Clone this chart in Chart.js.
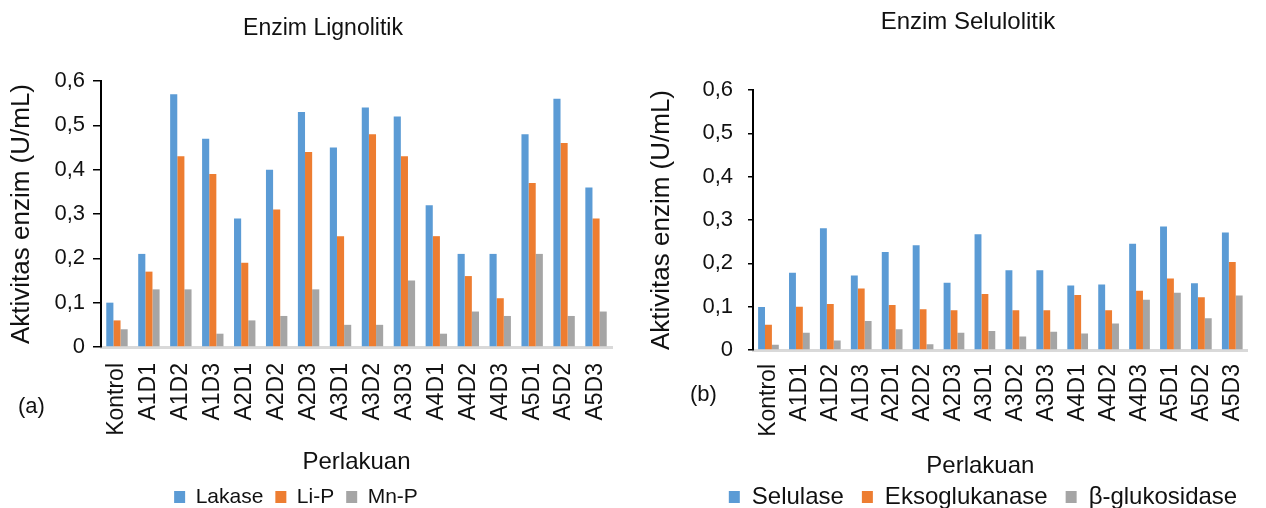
<!DOCTYPE html>
<html>
<head>
<meta charset="utf-8">
<script src="https://cdn.jsdelivr.net/npm/chart.js@4/dist/chart.umd.min.js"></script>
<style>
  html, body { margin: 0; padding: 0; background: #fff; }
  .panel { position: absolute; top: 0; height: 508px; }
  #left { left: 0; width: 640px; }
  #right { left: 640px; width: 626px; }
</style>
</head>
<body>
<div class="panel" id="left"><canvas id="lignolitik"></canvas></div>
<div class="panel" id="right"><canvas id="selulolitik"></canvas></div>
<script>
var categories = ["Kontrol", "A1D1", "A1D2", "A1D3", "A2D1", "A2D2", "A2D3", "A3D1",
  "A3D2", "A3D3", "A4D1", "A4D2", "A4D3", "A5D1", "A5D2", "A5D3"];

// (a) lignolytic enzymes
var lakase = [0.10, 0.21, 0.57, 0.47, 0.29, 0.40, 0.53, 0.45, 0.54, 0.52, 0.32, 0.21, 0.21, 0.48, 0.56, 0.36];
var lip = [0.06, 0.17, 0.43, 0.39, 0.19, 0.31, 0.44, 0.25, 0.48, 0.43, 0.25, 0.16, 0.11, 0.37, 0.46, 0.29];
var mnp = [0.04, 0.13, 0.13, 0.03, 0.06, 0.07, 0.13, 0.05, 0.05, 0.15, 0.03, 0.08, 0.07, 0.21, 0.07, 0.08];

// (b) cellulolytic enzymes
var selulase = [0.099, 0.178, 0.281, 0.172, 0.226, 0.242, 0.155, 0.267, 0.184, 0.184, 0.149, 0.151, 0.245, 0.285, 0.154, 0.271];
var eksoglukanase = [0.058, 0.100, 0.106, 0.142, 0.104, 0.094, 0.092, 0.129, 0.092, 0.092, 0.127, 0.092, 0.137, 0.165, 0.122, 0.203];
var glukosidase = [0.012, 0.040, 0.022, 0.067, 0.048, 0.013, 0.040, 0.044, 0.031, 0.042, 0.038, 0.061, 0.116, 0.132, 0.073, 0.126];

var BLUE = "#5B9BD5", ORANGE = "#ED7D31", GRAY = "#A5A5A5";
var FONT = "'Liberation Sans', Arial, sans-serif";
var TEXT = "#111";

Chart.defaults.font.family = FONT;
Chart.defaults.color = TEXT;

// shifts the title / legend boxes and draws the x title and panel letter
var extras = {
  id: "extras",
  afterLayout: function (chart, args, o) {
    var lg = chart.legend, tb = chart.titleBlock;
    lg.left += o.legendDx; lg.right += o.legendDx;
    lg.top += o.legendDy; lg.bottom += o.legendDy;
    tb.left += o.titleDx; tb.right += o.titleDx;
  },
  afterDraw: function (chart, args, o) {
    var ctx = chart.ctx, a = chart.chartArea;
    ctx.save();
    ctx.fillStyle = TEXT;
    ctx.textBaseline = "middle";
    ctx.textAlign = "center";
    ctx.font = o.xTitleSize + "px " + FONT;
    ctx.fillText(o.xTitle, (a.left + a.right) / 2 + o.xTitleDx, a.bottom + o.xTitleDy);
    ctx.textAlign = "left";
    ctx.font = o.panelSize + "px " + FONT;
    ctx.fillText(o.panel, o.panelX, a.bottom + o.panelDy);
    ctx.restore();
  }
};

function makeChart(id, title, names, series, s) {
  var colors = [BLUE, ORANGE, GRAY];
  return new Chart(document.getElementById(id), {
    type: "bar",
    data: {
      labels: categories,
      datasets: series.map(function (d, i) {
        return {
          label: names[i],
          data: d,
          backgroundColor: colors[i],
          barPercentage: 1,
          categoryPercentage: 0.67
        };
      })
    },
    options: {
      responsive: true,
      maintainAspectRatio: false,
      animation: false,
      layout: { padding: { left: 0, right: s.padRight, top: 0, bottom: 0 } },
      scales: {
        x: {
          grid: { display: false },
          border: { display: true, color: "#d9d9d9", width: 3 },
          ticks: { minRotation: 90, maxRotation: 90, padding: s.xTickPad, font: { size: s.xTick }, color: TEXT },
          afterFit: function (sc) { sc.height = s.xHeight; }
        },
        y: {
          min: 0,
          max: 0.6,
          grid: { display: true, drawOnChartArea: false, drawTicks: true, tickLength: s.tickLen, color: "#000", lineWidth: 1.5 },
          border: { display: true, color: "#000", width: 2 },
          ticks: {
            stepSize: 0.1,
            padding: s.tickPad,
            font: { size: s.yTick },
            color: TEXT,
            callback: function (v) { return v === 0 ? "0" : v.toFixed(1).replace(".", ","); }
          },
          title: { display: true, text: "Aktivitas enzim (U/mL)", font: { size: s.yTitle }, padding: { top: s.yTitlePad }, color: TEXT },
          afterFit: function (sc) { sc.width = s.yWidth; }
        }
      },
      plugins: {
        title: {
          display: true,
          text: title,
          font: { size: s.title, weight: "normal" },
          color: TEXT,
          padding: { top: s.titleTop, bottom: s.titleBottom }
        },
        legend: {
          position: "bottom",
          labels: { boxWidth: 11, boxHeight: 12, padding: s.legendPad, font: { size: s.legend }, color: TEXT }
        },
        tooltip: { enabled: false },
        extras: s.extras
      }
    },
    plugins: [extras]
  });
}

makeChart("lignolitik", "Enzim Lignolitik", ["Lakase", "Li-P", "Mn-P"], [lakase, lip, mnp], {
  padRight: 28, xTick: 23, xTickPad: 8, xHeight: 118, tickLen: 8, tickPad: 8, yTick: 22,
  yTitle: 26, yTitlePad: 6, yWidth: 101, title: 23, titleTop: 14.5, titleBottom: 38.9,
  legendPad: 12, legend: 21,
  extras: { legendDx: -10, legendDy: 9.5, titleDx: 17, xTitle: "Perlakuan", xTitleSize: 24,
    xTitleDx: 0, xTitleDy: 115, panel: "(a)", panelSize: 22, panelX: 18, panelDy: 60 }
});

makeChart("selulolitik", "Enzim Selulolitik", ["Selulase", "Eksoglukanase", "β-glukosidase"],
  [selulase, eksoglukanase, glukosidase], {
  padRight: 4, xTick: 23, xTickPad: 6, xHeight: 106, tickLen: 5, tickPad: 15, yTick: 22,
  yTitle: 26, yTitlePad: 6, yWidth: 113, title: 24, titleTop: 8, titleBottom: 53.2,
  legendPad: 18, legend: 24,
  extras: { legendDx: 32, legendDy: 11, titleDx: 17, xTitle: "Perlakuan", xTitleSize: 24,
    xTitleDx: -20, xTitleDy: 116, panel: "(b)", panelSize: 22, panelX: 50, panelDy: 45 }
});
</script>
</body>
</html>
